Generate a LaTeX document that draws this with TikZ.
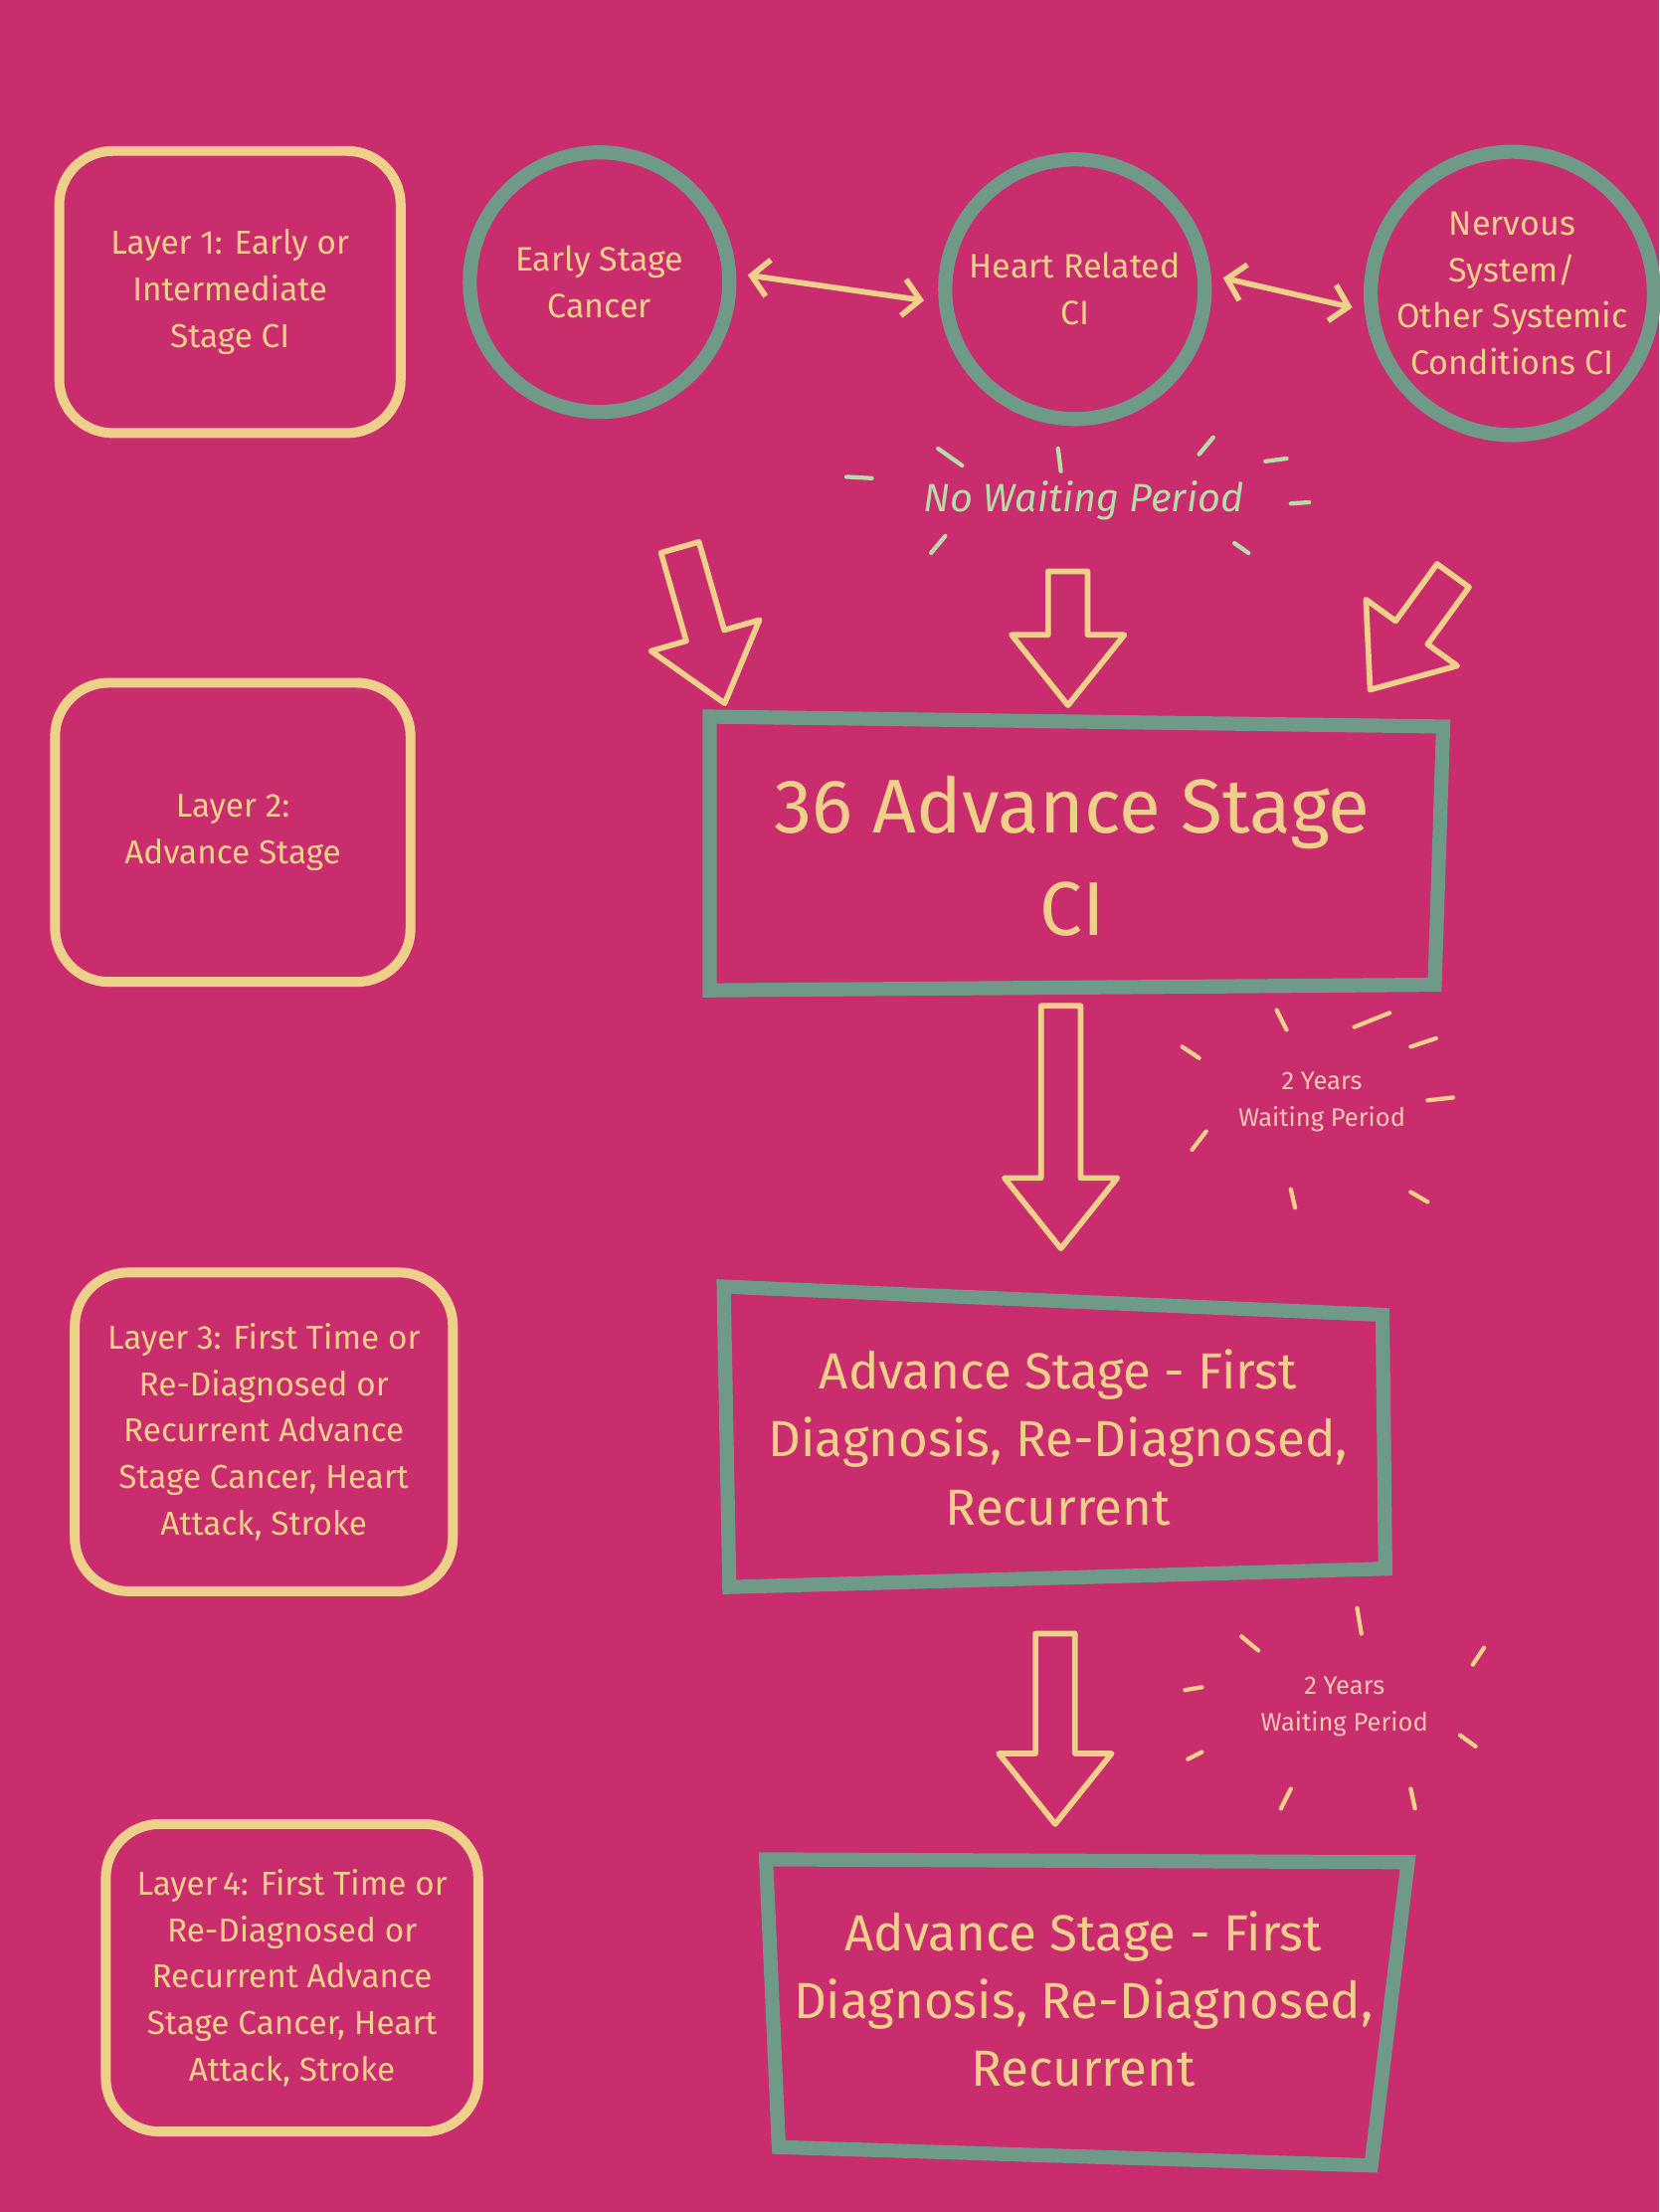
\documentclass[tikz,border=0pt]{standalone}
\usepackage{fontspec}
\setmainfont{Fira Sans}
\usetikzlibrary{arrows.meta}
\definecolor{bg}{HTML}{C92D6E}
\definecolor{cream}{HTML}{EFD08A}
\definecolor{teal}{HTML}{6F9A88}
\definecolor{mint}{HTML}{B5DDA8}
\definecolor{pale}{HTML}{F2C6B0}
\tikzset{
 layer/.style={draw=cream,line width=7pt,rounded corners=38pt,text=cream,align=center,font=\fontsize{23.5}{33}\selectfont},
 circ/.style={draw=teal,line width=10pt,circle,minimum size=184pt,inner sep=0pt,text=cream,align=center,font=\fontsize{24}{33}\selectfont},
 bigbox/.style={draw=teal,line width=10pt,text=cream,align=center},
 dbl/.style={cream,line width=4pt,{Straight Barb[length=12pt,width=26pt]}-{Straight Barb[length=12pt,width=26pt]}},
 hol/.style={draw=cream,line width=4pt,line join=round},
 tick/.style={draw=cream,line width=3pt,line cap=round},
}
\newcommand\harrow[4]{% x y angle length
 \begin{scope}[shift={(#1,#2)},rotate=#3]
 \draw[hol] (-14,0)--(14,0)--(14,#4-50)--(40,#4-50)--(0,#4)--(-40,#4-50)--(-14,#4-50)--cycle;
 \end{scope}}
\begin{document}
\begin{tikzpicture}[x=1pt,y=-1pt]
\fill[bg] (0,0) rectangle (1176,1568);
\useasboundingbox (0,0) rectangle (1176,1568);
% layers
\node[layer,minimum width=242pt,minimum height=200pt] (L1) at (163,207) {Layer 1: Early or\\Intermediate\\Stage CI};
\node[layer,minimum width=252pt,minimum height=212pt] (L2) at (165,590) {Layer 2:\\Advance Stage};
\node[layer,minimum width=268pt,minimum height=226pt] (L3) at (187,1015) {Layer 3: First Time or\\Re-Diagnosed or\\Recurrent Advance\\Stage Cancer, Heart\\Attack, Stroke};
\node[layer,minimum width=264pt,minimum height=218pt] (L4) at (207,1402) {Layer\,4: First Time or\\Re-Diagnosed or\\Recurrent Advance\\Stage Cancer, Heart\\Attack, Stroke};
% circles
\node[circ] (C1) at (425,200) {Early Stage\\Cancer};
\node[circ] (C2) at (762,205) {Heart Related\\CI};
\node[circ] (C3) at (1072,208) {Nervous\\System/\\Other Systemic\\Conditions CI};
\draw[dbl] (C1.east)++(8,-5) -- ([xshift=-10pt,yshift=-8pt]C2.west);
\draw[dbl] (C2.east)++(8,-8) -- ([xshift=-8pt,yshift=-10pt]C3.west);
% no waiting period
\node[text=mint,font=\itshape\fontsize{28}{30}\selectfont] (NW) at (768,355) {No Waiting Period};
\foreach \a/\b in {{(600,338)}/{(618,339)},{(665,318)}/{(682,330)},{(750,318)}/{(752,334)},{(850,322)}/{(860,310)},{(897,327)}/{(912,325)},{(915,357)}/{(928,356)},{(660,392)}/{(670,380)},{(875,385)}/{(885,392)}}
 \draw[tick,mint] \a -- \b;
\harrow{482}{388}{16}{115}
\harrow{1030}{408}{-36}{100}
\harrow{757}{405}{0}{95}
% box 1
\draw[bigbox] (503,508) -- (1023,515) -- (1017,698) -- (503,702) -- cycle;
\node[text=cream,align=center,font=\fontsize{54}{73}\selectfont] (B1) at (760,607) {36 Advance Stage\\CI};
\harrow{752}{713}{0}{172}
\node[text=pale,align=center,font=\fontsize{18}{26}\selectfont] (W1) at (937,781) {2 Years\\Waiting Period};
\foreach \a/\b in {{(905,716)}/{(912,730)},{(960,728)}/{(985,718)},{(1000,742)}/{(1018,736)},{(838,742)}/{(850,750)},{(1012,780)}/{(1030,778)},{(845,815)}/{(855,802)},{(915,843)}/{(918,856)},{(1000,845)}/{(1012,852)}}
 \draw[tick] \a -- \b;
% box 2
\draw[bigbox] (513,912) -- (980,932) -- (982,1112) -- (517,1125) -- cycle;
\node[text=cream,align=center,font=\fontsize{36}{48}\selectfont] (B2) at (750,1019) {Advance Stage - First\\Diagnosis, Re-Diagnosed,\\Recurrent};
\harrow{748}{1158}{0}{135}
\node[text=pale,align=center,font=\fontsize{18}{26}\selectfont] (W2) at (953,1210) {2 Years\\Waiting Period};
\foreach \a/\b in {{(880,1160)}/{(892,1170)},{(962,1140)}/{(965,1158)},{(1044,1180)}/{(1052,1168)},{(840,1198)}/{(852,1196)},{(1035,1230)}/{(1046,1238)},{(842,1247)}/{(852,1242)},{(908,1282)}/{(915,1268)},{(1000,1268)}/{(1003,1282)}}
 \draw[tick] \a -- \b;
% box 3
\draw[bigbox] (543,1318) -- (998,1320) -- (972,1535) -- (552,1522) -- cycle;
\node[text=cream,align=center,font=\fontsize{36}{48}\selectfont] (B3) at (768,1417) {Advance Stage - First\\Diagnosis, Re-Diagnosed,\\Recurrent};
\end{tikzpicture}
\end{document}
